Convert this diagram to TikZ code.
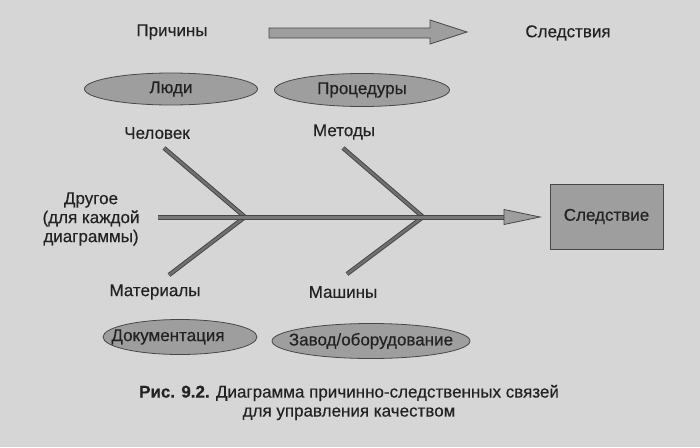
\documentclass[tikz,border=0pt]{standalone}
\usepackage{fontspec}
\setmainfont[FakeBold=0.4]{Liberation Sans}
\usetikzlibrary{shapes.geometric}
\definecolor{bg}{HTML}{D6D6D6}
\definecolor{ink}{HTML}{222222}
\definecolor{fillg}{HTML}{9E9E9E}
\definecolor{bonefill}{HTML}{707070}
\definecolor{edge}{HTML}{474747}
\begin{document}
\begin{tikzpicture}[x=1pt,y=-1pt,
  txt/.style={font=\fontsize{17}{19}\selectfont, text=ink, inner sep=0pt},
  lbl/.style={txt},
  ell/.style={ellipse, draw=edge, line width=0.8pt, fill=fillg, inner sep=0pt},
  bone/.style={draw=edge, line width=1pt, double=bonefill, double distance=2.4pt},
  spine/.style={draw=edge, line width=1pt, double=bonefill!80!fillg, double distance=3pt},
  blockarrow/.style={draw=edge, line width=0.8pt, fill=fillg},
  effectbox/.style={rectangle, draw=edge, line width=0.8pt, fill=fillg, inner sep=0pt,
    minimum width=113pt, minimum height=65pt, txt}]
\useasboundingbox (0,0) rectangle (700,447);
\fill[bg] (0,0) rectangle (700,447);

% top: causes -> effects
\node[lbl] (causes) at (172,32) {Причины};
\node[lbl] (effects) at (568,33) {Следствия};
\coordinate (ta1) at (467,32);
\draw[blockarrow] (269,28) -- (430,28) -- (430,20) -- (ta1) -- (430,44) -- (430,38) -- (269,38) -- cycle;

% category ellipses (top)
\node[ell, minimum width=173pt, minimum height=32pt, label={[txt]center:Люди}] (people) at (171,89) {};
\node[ell, minimum width=175pt, minimum height=33pt, label={[txt]center:Процедуры}] (proc) at (362,90) {};

% bone labels
\node[lbl] (man) at (157,133) {Человек};
\node[lbl] (meth) at (344,132) {Методы};
\node[lbl] (mat) at (155,292) {Материалы};
\node[lbl] (mach) at (343,292) {Машины};
\node[lbl, align=center] (other) at (91,219) {Другое\\(для каждой\\диаграммы)};

% effect box
\node[effectbox] (effect) at (606.5,216.5) {Следствие};

% fishbone
\coordinate (s0) at (158,217);
\coordinate (j1) at (245,217);
\coordinate (j2) at (423,217);
\coordinate (tip) at (540,217);
\coordinate (u1) at (164,148);
\coordinate (u2) at (343,148);
\coordinate (d1) at (169,275);
\coordinate (d2) at (347,274);
\draw[bone] (u1) -- (j1);
\draw[bone] (d1) -- (j1);
\draw[bone] (u2) -- (j2);
\draw[bone] (d2) -- (j2);
\draw[spine] (s0) -- (506,217);
\draw[blockarrow] (504,209.5) -- (tip) -- (504,224.5) -- cycle;

% category ellipses (bottom)
\node[ell, minimum width=154pt, minimum height=35pt] (docs) at (180,337) {};
\node[txt] (docstext) at (168,337) {Документация};
\node[ell, minimum width=198pt, minimum height=35pt, label={[txt]center:Завод/оборудование}] (plant) at (371,341) {};

% caption
\node[lbl, align=center] (caption) at (349,402.5) {\textbf{Рис. 9.2.} Диаграмма причинно-следственных связей\\для управления качеством};
\end{tikzpicture}
\end{document}
